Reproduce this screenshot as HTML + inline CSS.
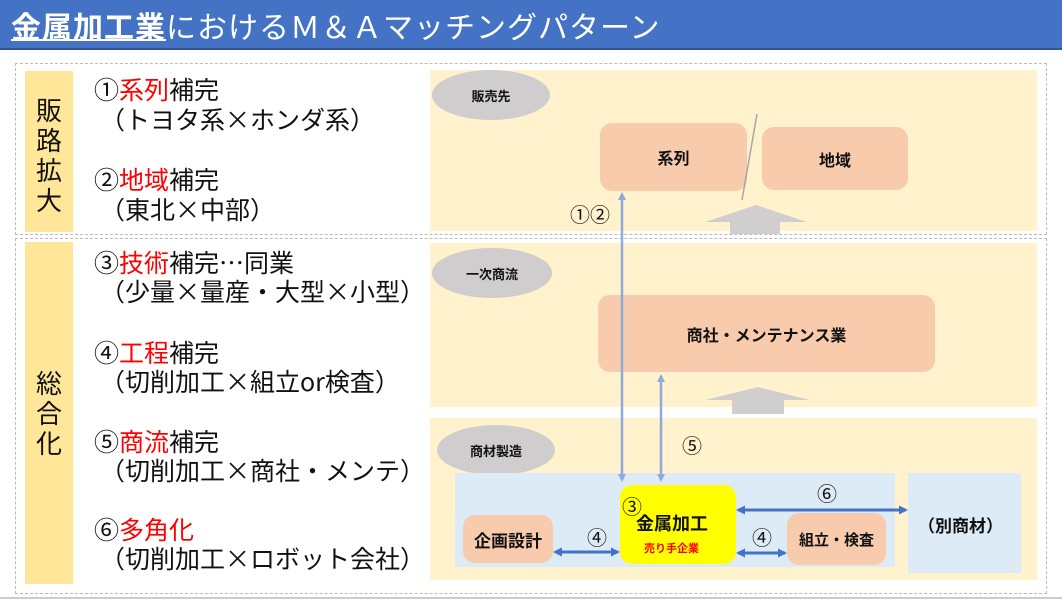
<!DOCTYPE html>
<html><head><meta charset="utf-8"><style>
*{margin:0;padding:0;box-sizing:border-box}
body{width:1062px;height:602px;position:relative;background:#fff;font-family:"Liberation Sans","Noto Sans CJK JP",sans-serif;overflow:hidden;color:#111}
.a{position:absolute}
.title{left:0;top:0;width:1062px;height:50px;background:#4472C4;border-bottom:2px solid #2f5597;color:#fff;font-size:30px;line-height:50px;padding-left:11px;white-space:nowrap;font-family:"Noto Sans CJK JP",sans-serif;letter-spacing:1px}
.title u{font-weight:bold;text-decoration-thickness:2px}
.dash{border:1.5px dashed #bbb}
.col{background:#FFE699;font-size:26px;line-height:30px;text-align:center;width:48px;font-family:"Noto Sans CJK JP",sans-serif}
.pan{background:#FFF2CC}
.ell{background:#cfcdcd;border-radius:50%;font-size:13px;font-weight:bold;display:flex;align-items:center;justify-content:center}
.box{background:#F8CBAD;border-radius:12px;display:flex;align-items:center;justify-content:center;font-weight:bold;font-size:16px}
.t{font-size:25px;line-height:28px;white-space:nowrap;font-family:"Noto Sans CJK JP",sans-serif}
.r{color:#f00}
.lb{font-size:20px;line-height:20px;font-family:"Noto Sans CJK JP",sans-serif}
</style></head><body>
<div class="a title"><u>金属加工業</u>におけるＭ＆Ａマッチングパターン</div>
<div class="a dash" style="left:15px;top:63px;width:1032px;height:172px"></div>
<div class="a dash" style="left:15px;top:238px;width:1032px;height:356px"></div>
<div class="a" style="left:0;top:597px;width:1062px;height:2px;background:#ccc"></div>
<div class="a col" style="left:25px;top:71px;height:161px;padding-top:24px">販<br>路<br>拡<br>大</div>
<div class="a col" style="left:25px;top:242px;height:342px;padding-top:126px">総<br>合<br>化</div>

<div class="a t" style="left:94px;top:75px">①<span class="r">系列</span>補完</div>
<div class="a t" style="left:100px;top:105px">（トヨタ系×ホンダ系）</div>
<div class="a t" style="left:94px;top:165px">②<span class="r">地域</span>補完</div>
<div class="a t" style="left:100px;top:195px">（東北×中部）</div>
<div class="a t" style="left:94px;top:248px">③<span class="r">技術</span>補完⋯同業</div>
<div class="a t" style="left:100px;top:277px">（少量×量産・大型×小型）</div>
<div class="a t" style="left:94px;top:338px">④<span class="r">工程</span>補完</div>
<div class="a t" style="left:100px;top:367px">（切削加工×組立or検査）</div>
<div class="a t" style="left:94px;top:427px">⑤<span class="r">商流</span>補完</div>
<div class="a t" style="left:100px;top:456px">（切削加工×商社・メンテ）</div>
<div class="a t" style="left:94px;top:515px">⑥<span class="r">多角化</span></div>
<div class="a t" style="left:100px;top:544px">（切削加工×ロボット会社）</div>

<div class="a pan" style="left:430px;top:70px;width:607px;height:161px"></div>
<div class="a pan" style="left:430px;top:243px;width:607px;height:164px"></div>
<div class="a pan" style="left:430px;top:418px;width:607px;height:162px"></div>
<div class="a ell" style="left:432px;top:70px;width:118px;height:50px">販売先</div>
<div class="a ell" style="left:432px;top:248px;width:120px;height:50px">一次商流</div>
<div class="a ell" style="left:437px;top:425px;width:118px;height:50px">商材製造</div>

<div class="a box" style="left:600px;top:123px;width:147px;height:68px">系列</div>
<div class="a box" style="left:762px;top:127px;width:146px;height:63px">地域</div>
<div class="a box" style="left:598px;top:295px;width:337px;height:77px">商社・メンテナンス業</div>

<div class="a" style="left:455px;top:473px;width:440px;height:94px;background:#DDEBF7"></div>
<div class="a" style="left:908px;top:473px;width:113px;height:100px;background:#DDEBF7"></div>
<div class="a" style="left:918px;top:512px;font-weight:bold;font-size:17px">（別商材）</div>
<div class="a box" style="left:463px;top:515px;width:90px;height:48px;font-size:17px">企画設計</div>
<div class="a box" style="left:787px;top:513px;width:99px;height:52px;font-size:15px">組立・検査</div>
<div class="a" style="left:620px;top:485px;width:116px;height:79px;background:#ff0;border-radius:12px"></div>
<div class="a lb" style="left:622px;top:496px">③</div>
<div class="a" style="left:636px;top:510px;font-weight:bold;font-size:18px">金属加工</div>
<div class="a" style="left:644px;top:540px;font-weight:bold;font-size:11px;color:#f00">売り手企業</div>

<div class="a lb" style="left:570px;top:204px">①②</div>
<div class="a lb" style="left:682px;top:435px">⑤</div>
<div class="a lb" style="left:587px;top:527px">④</div>
<div class="a lb" style="left:752px;top:527px">④</div>
<div class="a lb" style="left:817px;top:483px">⑥</div>

<svg class="a" style="left:0;top:0" width="1062" height="602">
<defs>
<marker id="m" markerWidth="8" markerHeight="8" refX="6" refY="4" orient="auto-start-reverse" markerUnits="userSpaceOnUse"><path d="M0,0 L8,4 L0,8z" fill="#8faadc"/></marker>
<marker id="n" markerWidth="9" markerHeight="9" refX="7" refY="4.5" orient="auto-start-reverse" markerUnits="userSpaceOnUse"><path d="M0,0 L9,4.5 L0,9z" fill="#4472c4"/></marker>
</defs>
<line x1="757" y1="114" x2="742" y2="200" stroke="#a6a6a6" stroke-width="1.5"/>
<polygon points="705,222 756,205 807,222 780,222 780,234 730,234 730,222" fill="#d0cece"/>
<polygon points="705,400 758,387 810,400 784,400 784,414 732,414 732,400" fill="#d0cece"/>
<line x1="622" y1="194" x2="622" y2="480" stroke="#8faadc" stroke-width="2.5" marker-start="url(#m)" marker-end="url(#m)"/>
<line x1="661" y1="376" x2="661" y2="480" stroke="#8faadc" stroke-width="2.5" marker-start="url(#m)" marker-end="url(#m)"/>
<line x1="555" y1="552" x2="618" y2="552" stroke="#4472c4" stroke-width="3" marker-start="url(#n)" marker-end="url(#n)"/>
<line x1="738" y1="553" x2="785" y2="553" stroke="#4472c4" stroke-width="3" marker-start="url(#n)" marker-end="url(#n)"/>
<line x1="738" y1="510" x2="906" y2="510" stroke="#4472c4" stroke-width="3" marker-start="url(#n)" marker-end="url(#n)"/>
</svg>
</body></html>
